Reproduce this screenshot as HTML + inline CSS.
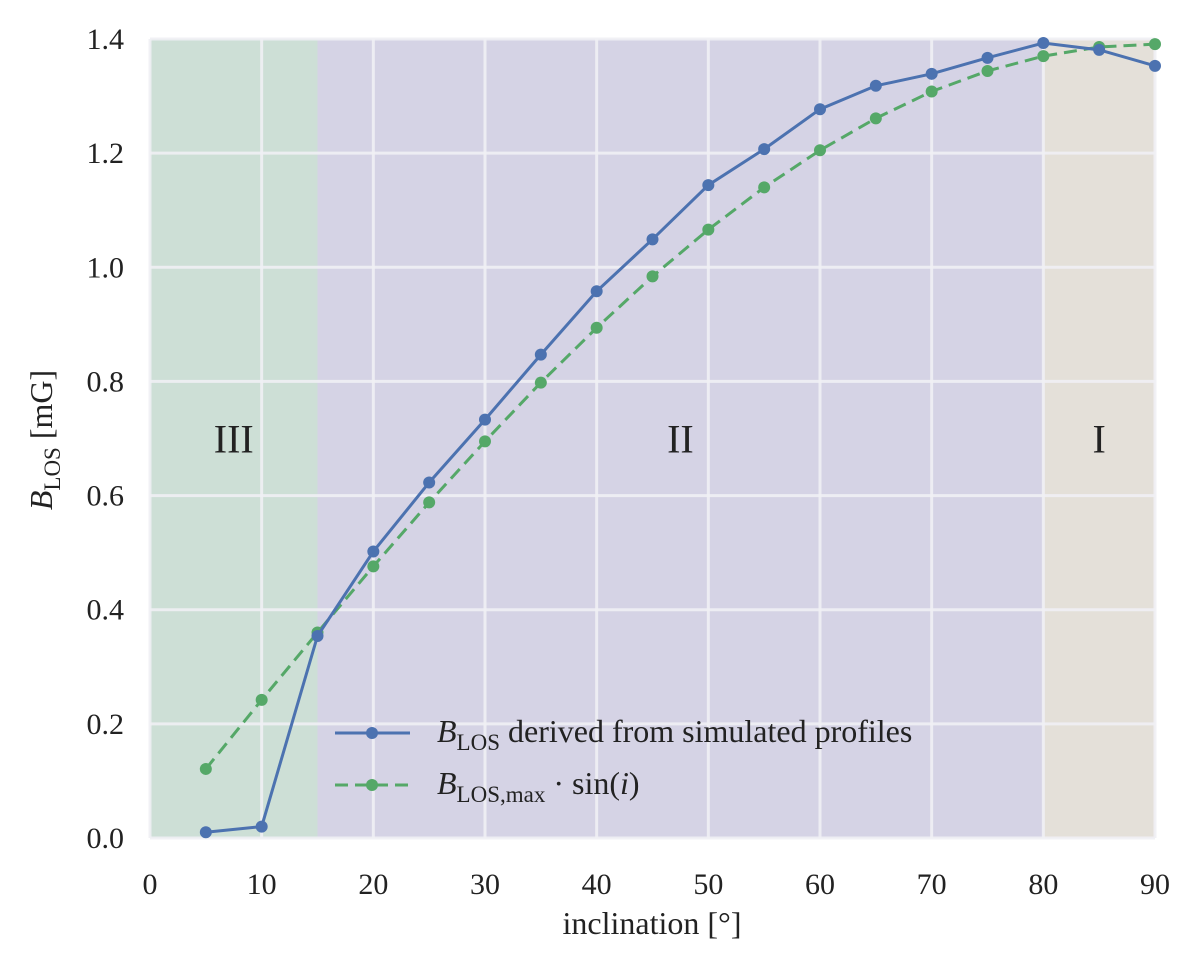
<!DOCTYPE html>
<html><head><meta charset="utf-8"><style>
body{margin:0;background:#fff;}
svg text{font-family:"Liberation Serif",serif;fill:#222;}
</style></head><body>
<svg id="chart" width="1200" height="975" xmlns="http://www.w3.org/2000/svg" style="position:absolute;left:0;top:0">
<g id="regions"></g><g id="grid"></g><g id="series"></g><g id="labels"></g>
</svg>
<script>
const xTicks=[0,10,20,30,40,50,60,70,80,90];
const yTicks=[0.0,0.2,0.4,0.6,0.8,1.0,1.2,1.4];
const inclination=[5,10,15,20,25,30,35,40,45,50,55,60,65,70,75,80,85,90];
const bDerived=[0.010,0.020,0.354,0.502,0.623,0.733,0.847,0.958,1.049,1.144,1.207,1.277,1.318,1.339,1.367,1.393,1.381,1.353];
const bSin=[0.121,0.242,0.360,0.476,0.588,0.695,0.798,0.894,0.984,1.066,1.140,1.205,1.261,1.308,1.344,1.370,1.386,1.391];
const regionBounds=[[0,15],[15,80],[80,90]];
const regionNames=["III","II","I"];
const regionColors=["#cddfd6","#d5d3e5","#e4e0d9"];
const X0=150,X1=1155,Y0=838,Y1=39;
const sx=v=>X0+(v-0)/(90-0)*(X1-X0);
const sy=v=>Y0-(v-0)/(1.4-0)*(Y0-Y1);
const NS="http://www.w3.org/2000/svg";
function mk(tag,parent,attrs){const e=document.createElementNS(NS,tag);for(const k in attrs)e.setAttribute(k,attrs[k]);document.getElementById(parent).appendChild(e);return e;}
regionBounds.forEach((b,i)=>{
 const r=mk('rect','regions',{x:sx(b[0]),y:Y1,width:sx(b[1])-sx(b[0]),height:Y0-Y1,fill:regionColors[i]});
 
 
 const t=mk('text','labels',{x:(sx(b[0])+sx(b[1]))/2,y:sy(0.7)+14,'font-size':40,'text-anchor':'middle'});
 t.textContent=regionNames[i];
 
 
});
xTicks.forEach(v=>{
 const l=mk('line','grid',{x1:sx(v),x2:sx(v),y1:Y1,y2:Y0,stroke:'#f0f0f4','stroke-opacity':0.9,'stroke-width':3});
 
 
 const t=mk('text','labels',{x:sx(v),y:Y0+56,'font-size':30,'text-anchor':'middle'});
 t.textContent=v;
 
 
});
yTicks.forEach(v=>{
 const l=mk('line','grid',{x1:X0,x2:X1,y1:sy(v),y2:sy(v),stroke:'#f0f0f4','stroke-opacity':0.9,'stroke-width':3});
 
 
 const t=mk('text','labels',{x:124,y:sy(v)+10,'font-size':30,'text-anchor':'end'});
 t.textContent=v.toFixed(1);
 
 
});
function drawSeries(vals,color,dash,name){
 const p=mk('polyline','series',{points:inclination.map((x,i)=>sx(x)+','+sy(vals[i])).join(' '),fill:'none',stroke:color,'stroke-width':3,'stroke-dasharray':dash});
 
 
 inclination.forEach((x,i)=>{
  const c=mk('circle','series',{cx:sx(x),cy:sy(vals[i]),r:6,fill:color});
  
  
 });
}
drawSeries(bSin,'#55a868','13,7','b-sin');
drawSeries(bDerived,'#4c72b0','none','b-derived');
</script>
<svg style="position:absolute;left:0;top:0" width="1200" height="975">
<g>
<line x1="335" y1="733" x2="410" y2="733" stroke="#4c72b0" stroke-width="3"/>
<circle cx="372" cy="733" r="6" fill="#4c72b0"/>
<line x1="335" y1="785" x2="410" y2="785" stroke="#55a868" stroke-width="3" stroke-dasharray="13,7"/>
<circle cx="372" cy="785" r="6" fill="#55a868"/>
<text x="437" y="742" font-size="32" style="font-family:'Liberation Serif',serif" fill="#222"><tspan font-style="italic">B</tspan><tspan font-size="23" dy="8">LOS</tspan><tspan dy="-8"> derived from simulated profiles</tspan></text>
<text x="437" y="794" font-size="32" style="font-family:'Liberation Serif',serif" fill="#222"><tspan font-style="italic">B</tspan><tspan font-size="23" dy="8">LOS,max</tspan><tspan dy="-8"> · sin(</tspan><tspan font-style="italic">i</tspan><tspan>)</tspan></text>
</g>
<text x="652" y="934" font-size="32" text-anchor="middle" style="font-family:'Liberation Serif',serif" fill="#222">inclination [°]</text>
<text transform="translate(52,440) rotate(-90)" font-size="32" text-anchor="middle" style="font-family:'Liberation Serif',serif" fill="#222"><tspan font-style="italic">B</tspan><tspan font-size="23" dy="8">LOS</tspan><tspan dy="-8"> [mG]</tspan></text>
</svg>
</body></html>
